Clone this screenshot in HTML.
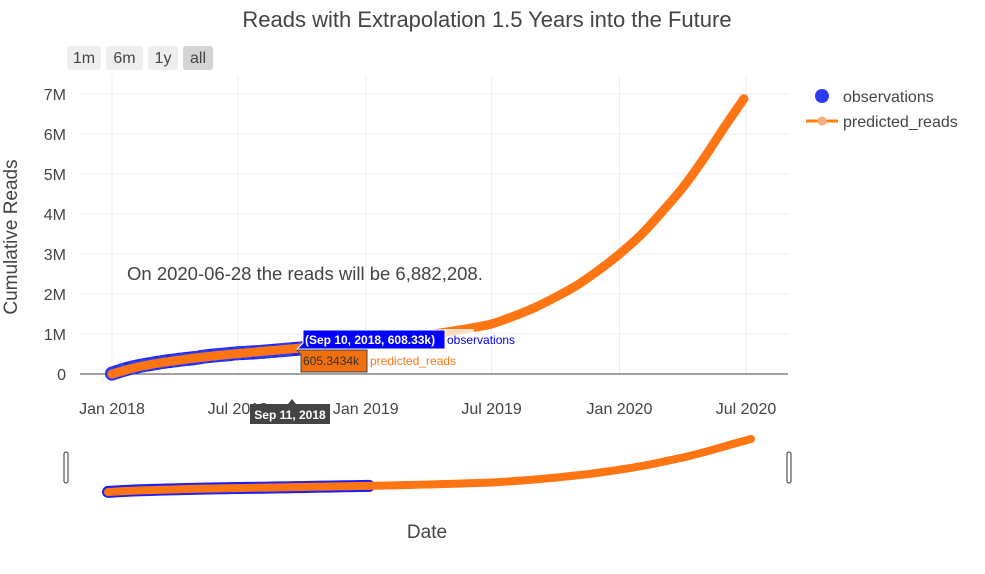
<!DOCTYPE html>
<html><head><meta charset="utf-8"><style>
body{margin:0;background:#fff;font-family:"Liberation Sans",sans-serif}
svg text{font-family:"Liberation Sans",sans-serif}
</style></head><body>
<svg id="c" width="985" height="569" xmlns="http://www.w3.org/2000/svg">
<text x="487" y="27" text-anchor="middle" font-size="22" fill="#444">Reads with Extrapolation 1.5 Years into the Future</text>
<g>
<rect x="67" y="46" width="34" height="24" rx="3" fill="#eee"/><text x="84" y="63" text-anchor="middle" font-size="16" fill="#444">1m</text>
<rect x="106" y="46" width="37" height="24" rx="3" fill="#eee"/><text x="124.5" y="63" text-anchor="middle" font-size="16" fill="#444">6m</text>
<rect x="148" y="46" width="30" height="24" rx="3" fill="#eee"/><text x="163" y="63" text-anchor="middle" font-size="16" fill="#444">1y</text>
<rect x="183" y="46" width="30" height="24" rx="3" fill="#d4d4d4"/><text x="198" y="63" text-anchor="middle" font-size="16" fill="#444">all</text>
</g>
<g id="grid"></g>
<g id="marks"></g>
<g id="slider"></g>
<text transform="translate(17,237) rotate(-90)" text-anchor="middle" font-size="19" fill="#444">Cumulative Reads</text>
<text x="427" y="538" text-anchor="middle" font-size="19" fill="#444">Date</text>
<text x="127" y="280" font-size="18.5" fill="#444">On 2020-06-28 the reads will be 6,882,208.</text>
<g>
<circle cx="822" cy="96" r="7" fill="#2b3bf5"/>
<text x="843" y="102" font-size="16" fill="#444">observations</text>
<line x1="806" y1="121" x2="838" y2="121" stroke="#ff7f0e" stroke-width="3"/>
<circle cx="822" cy="121" r="4.5" fill="#f8ac78"/>
<text x="843" y="127" font-size="16" fill="#444">predicted_reads</text>
</g>
<g id="hover"></g>
</svg>
<script>
const predDates=["2018-01-01","2018-02-01","2018-03-01","2018-04-01","2018-05-01","2018-06-01","2018-07-01","2018-08-01","2018-09-01","2018-10-01","2018-11-01","2018-12-01","2019-01-01","2019-02-01","2019-03-01","2019-04-01","2019-05-01","2019-06-01","2019-07-01","2019-08-01","2019-09-01","2019-10-01","2019-11-01","2019-12-01","2020-01-01","2020-02-01","2020-03-01","2020-04-01","2020-05-01","2020-06-01","2020-06-28"];
const predValues=[0,150000,250000,330000,400000,460000,510000,560000,605000,650000,700000,750000,800000,850000,910000,980000,1060000,1150000,1250000,1440000,1660000,1920000,2220000,2580000,3000000,3480000,4030000,4660000,5380000,6200000,6882208];
const obsDates=["2018-01-01","2018-01-15","2018-02-01","2018-02-15","2018-03-01","2018-03-15","2018-04-01","2018-04-15","2018-05-01","2018-05-15","2018-06-01","2018-06-15","2018-07-01","2018-07-15","2018-08-01","2018-08-15","2018-09-01","2018-09-10","2018-10-01","2018-10-15","2018-11-01","2018-11-15","2018-12-01","2018-12-15","2019-01-05"];
const obsValues=[10000,90000,170000,220000,260000,300000,340000,370000,400000,440000,470000,490000,520000,530000,550000,570000,595000,608330,640000,660000,690000,710000,740000,760000,790000];
const xTickLabels=["Jan 2018","Jul 2018","Jan 2019","Jul 2019","Jan 2020","Jul 2020"];
const xTickDates=["2018-01-01","2018-07-01","2019-01-01","2019-07-01","2020-01-01","2020-07-01"];
const yTickValues=[0,1000000,2000000,3000000,4000000,5000000,6000000,7000000];
const yTickLabels=["0","1M","2M","3M","4M","5M","6M","7M"];

const NS="http://www.w3.org/2000/svg";
const t0=Date.parse("2018-01-01"),t1=Date.parse("2020-07-01");
const X=d=>112+(Date.parse(d)-t0)/(t1-t0)*634;
const Y=v=>374-v/1000000*40;
const SX=d=>108+(Date.parse(d)-t0)/(Date.parse("2020-06-28")-t0)*643;
const SY=v=>492-v/6882208*53;
function mk(tag,attrs,parent){const e=document.createElementNS(NS,tag);for(const k in attrs)e.setAttribute(k,attrs[k]);parent.appendChild(e);return e;}
function smooth(pts){let d='M'+pts[0][0]+','+pts[0][1];for(let i=0;i<pts.length-1;i++){const p0=pts[i-1]||pts[i],p1=pts[i],p2=pts[i+1],p3=pts[i+2]||p2;
 d+=' C'+(p1[0]+(p2[0]-p0[0])/6)+','+(p1[1]+(p2[1]-p0[1])/6)+' '+(p2[0]-(p3[0]-p1[0])/6)+','+(p2[1]-(p3[1]-p1[1])/6)+' '+p2[0]+','+p2[1];}return d;}
const grid=document.getElementById('grid'),marks=document.getElementById('marks'),slider=document.getElementById('slider'),hover=document.getElementById('hover');
yTickValues.forEach((v,i)=>{
 if(v>0){const l=mk('line',{x1:80,x2:788,y1:Y(v),y2:Y(v),stroke:'#eee','stroke-width':1},grid);
 
 }
 const t=mk('text',{x:66,y:Y(v)+6,'text-anchor':'end','font-size':16,fill:'#444'},grid);t.textContent=yTickLabels[i];
 
 
});
xTickDates.forEach((d,i)=>{
 const l=mk('line',{x1:X(d),x2:X(d),y1:75,y2:374,stroke:'#eee','stroke-width':1},grid);
 
 
 const t=mk('text',{x:X(d),y:414,'text-anchor':'middle','font-size':16,fill:'#444'},grid);t.textContent=xTickLabels[i];
 
 
});
const z=mk('line',{x1:80,x2:788,y1:374,y2:374,stroke:'#444','stroke-width':1},grid);


const obsPts=obsDates.map((d,i)=>[X(d),Y(obsValues[i])]);
const predPts=predDates.map((d,i)=>[X(d),Y(predValues[i])]);
const op=mk('path',{d:smooth(obsPts),fill:'none',stroke:'#1f1ff0','stroke-width':14,'stroke-linecap':'round','stroke-linejoin':'round'},marks);


obsPts.forEach(p=>{const c=mk('circle',{cx:p[0],cy:p[1],r:7,fill:'#2b3bf5'},marks);
 
 });
const pp=mk('path',{d:smooth(predPts),fill:'none',stroke:'#ff7514','stroke-width':9,'stroke-linecap':'round','stroke-linejoin':'round'},marks);


// slider
const sb=mk('rect',{x:64,y:452,width:4,height:31,rx:2,fill:'#fff',stroke:'#333','stroke-width':1},slider);


const sb2=mk('rect',{x:787,y:452,width:4,height:31,rx:2,fill:'#fff',stroke:'#333','stroke-width':1},slider);


const so=mk('path',{d:smooth(obsDates.map((d,i)=>[SX(d),SY(obsValues[i])])),fill:'none',stroke:'#1f1ff0','stroke-width':12,'stroke-linecap':'round'},slider);


const sp=mk('path',{d:smooth(predDates.map((d,i)=>[SX(d),SY(predValues[i])])),fill:'none',stroke:'#ff7514','stroke-width':8,'stroke-linecap':'round'},slider);


// hover
const hx=297,hy=349;
const hw=mk('rect',{x:444,y:329,width:30,height:12,fill:'#fff',opacity:0.75},hover);


const b1=mk('path',{d:`M${hx},${hy} l6,-6 v-13 h142 v19 z`,fill:'#0000ff',stroke:'#fff','stroke-width':1},hover);


const t1e=mk('text',{x:hx+8,y:hy-5,'font-size':12,'font-weight':'bold',fill:'#fff'},hover);t1e.textContent='(Sep 10, 2018, 608.33k)';
const t1n=mk('text',{x:hx+150,y:hy-5,'font-size':12,fill:'#0000ff'},hover);t1n.textContent='observations';
const b2=mk('path',{d:`M${hx},${hy+1} l4,5 v17 h66 v-22 z`,fill:'#f07010',stroke:'#444','stroke-width':1},hover);


const t2e=mk('text',{x:hx+6,y:hy+16,'font-size':12,fill:'#333'},hover);t2e.textContent='605.3434k';
const t2n=mk('text',{x:hx+73,y:hy+16,'font-size':12,fill:'#ff7514'},hover);t2n.textContent='predicted_reads';
const b3=mk('path',{d:`M250,404 h38 l4,-5 l4,5 h34 v20 h-80 z`,fill:'#444'},hover);


const t3=mk('text',{x:290,y:419,'text-anchor':'middle','font-size':12,'font-weight':'bold',fill:'#fff'},hover);t3.textContent='Sep 11, 2018';
</script>
</body></html>
